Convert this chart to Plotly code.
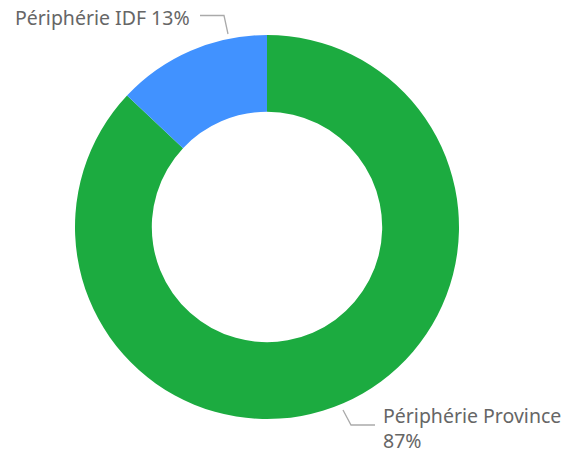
import plotly.graph_objects as go

labels = ["Périphérie Province", "Périphérie IDF"]
values = [87, 13]
colors = ["#1cab40", "#4192ff"]
label_texts = ["Périphérie Province<br>87%", "Périphérie IDF 13%"]

W, H = 567, 454

def px(x):
    return x / W

def py(y):
    return 1 - y / H

fig = go.Figure(go.Pie(
    labels=labels,
    values=values,
    sort=False,
    direction="clockwise",
    rotation=0,
    hole=0.6,
    marker=dict(colors=colors, line=dict(width=0)),
    textinfo="none",
    hoverinfo="label+percent",
    domain=dict(x=[px(75), px(459)], y=[py(419), py(35)]),
    showlegend=False,
))

line_style = dict(color="#aaaaaa", width=1.3)
fig.add_shape(type="path", xref="paper", yref="paper",
              path=f"M {px(200)} {py(15.5)} L {px(224)} {py(15.5)} L {px(228)} {py(34)}",
              line=line_style)
fig.add_shape(type="path", xref="paper", yref="paper",
              path=f"M {px(343)} {py(410)} L {px(351)} {py(425)} L {px(375)} {py(425)}",
              line=line_style)

font = dict(family="Noto Sans, Open Sans, sans-serif", size=19.5, color="#666666")
fig.add_annotation(x=px(13), y=py(18), xref="paper", yref="paper",
                   text=label_texts[1], showarrow=False, xanchor="left", yanchor="middle",
                   font=font)
fig.add_annotation(x=px(381), y=py(428), xref="paper", yref="paper",
                   text=label_texts[0], showarrow=False, xanchor="left", yanchor="middle",
                   align="left", font=font)

fig.update_layout(
    width=W, height=H,
    margin=dict(l=0, r=0, t=0, b=0),
    paper_bgcolor="white",
    plot_bgcolor="white",
)

fig.write_html("out.html", config={"displayModeBar": False},
               post_script="document.body.style.margin='0';document.body.style.overflow='hidden';")
